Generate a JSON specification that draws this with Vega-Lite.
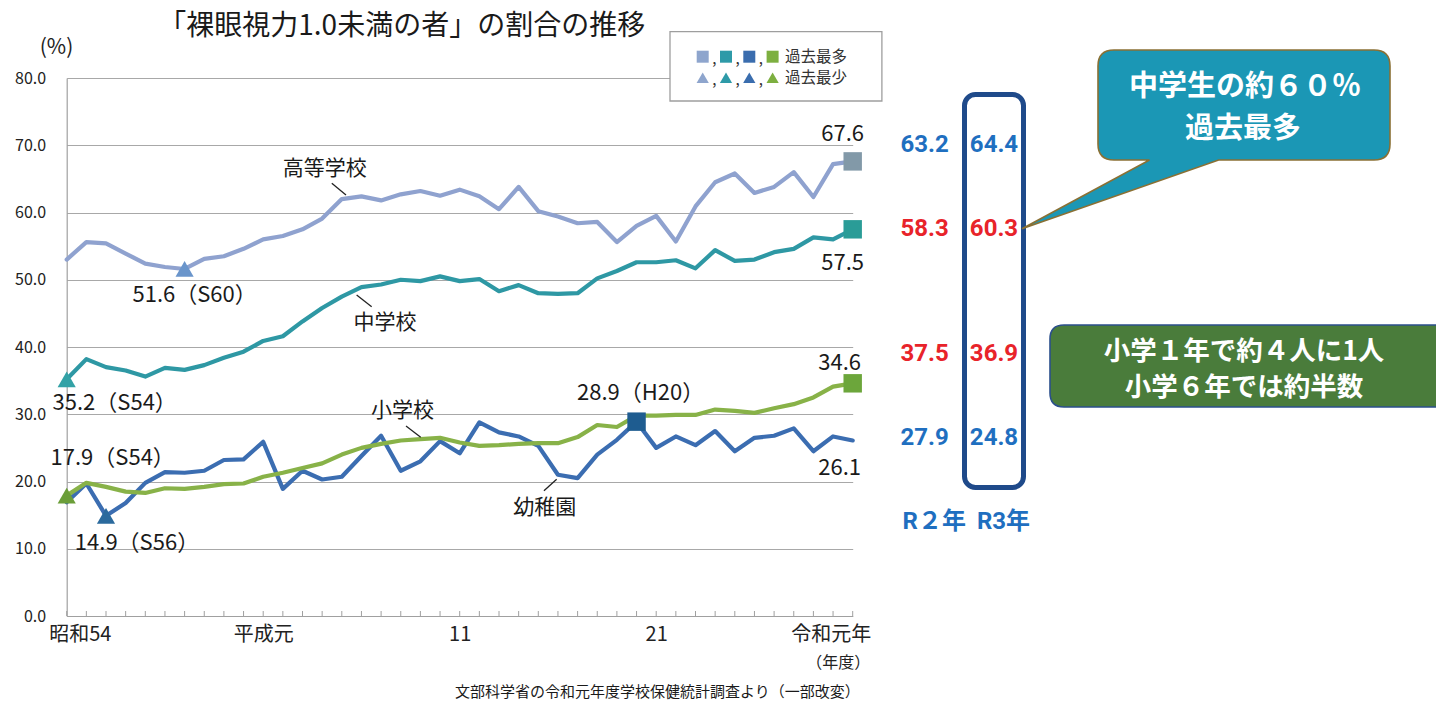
{
  "$schema": "https://vega.github.io/schema/vega-lite/v6.json",
  "width": 786,
  "height": 538,
  "autosize": {"type": "none"},
  "padding": {"left": 66.7, "top": 78, "right": 583.3, "bottom": 88},
  "background": "white",
  "config": {
    "font": "Noto Sans CJK JP",
    "view": {"stroke": null},
    "title": {"font": "Noto Sans CJK JP"}
  },
  "title": {
    "text": "「裸眼視力1.0未満の者」の割合の推移",
    "fontSize": 28,
    "fontWeight": "normal",
    "color": "#1a1a1a",
    "anchor": "middle",
    "dx": -58,
    "dy": 16,
    "offset": 6
  },
  "datasets": {
    "series": [
      {"年": 1979, "幼稚園": 16.9, "小学校": 17.9, "中学校": 35.2, "高等学校": 53.0},
      {"年": 1980, "幼稚園": 19.7, "小学校": 19.8, "中学校": 38.2, "高等学校": 55.6},
      {"年": 1981, "幼稚園": 14.9, "小学校": 19.2, "中学校": 37.0, "高等学校": 55.4},
      {"年": 1982, "幼稚園": 16.8, "小学校": 18.5, "中学校": 36.5, "高等学校": 53.9},
      {"年": 1983, "幼稚園": 19.8, "小学校": 18.3, "中学校": 35.6, "高等学校": 52.4},
      {"年": 1984, "幼稚園": 21.4, "小学校": 19.0, "中学校": 36.9, "高等学校": 51.9},
      {"年": 1985, "幼稚園": 21.3, "小学校": 18.9, "中学校": 36.6, "高等学校": 51.6},
      {"年": 1986, "幼稚園": 21.6, "小学校": 19.2, "中学校": 37.3, "高等学校": 53.1},
      {"年": 1987, "幼稚園": 23.2, "小学校": 19.6, "中学校": 38.4, "高等学校": 53.5},
      {"年": 1988, "幼稚園": 23.3, "小学校": 19.7, "中学校": 39.3, "高等学校": 54.6},
      {"年": 1989, "幼稚園": 25.9, "小学校": 20.7, "中学校": 40.9, "高等学校": 56.0},
      {"年": 1990, "幼稚園": 18.9, "小学校": 21.3, "中学校": 41.6, "高等学校": 56.5},
      {"年": 1991, "幼稚園": 21.6, "小学校": 22.0, "中学校": 43.8, "高等学校": 57.5},
      {"年": 1992, "幼稚園": 20.3, "小学校": 22.7, "中学校": 45.8, "高等学校": 59.1},
      {"年": 1993, "幼稚園": 20.7, "小学校": 24.0, "中学校": 47.5, "高等学校": 62.0},
      {"年": 1994, "幼稚園": 23.8, "小学校": 25.0, "中学校": 48.9, "高等学校": 62.4},
      {"年": 1995, "幼稚園": 26.8, "小学校": 25.6, "中学校": 49.3, "高等学校": 61.8},
      {"年": 1996, "幼稚園": 21.6, "小学校": 26.1, "中学校": 50.0, "高等学校": 62.7},
      {"年": 1997, "幼稚園": 23.0, "小学校": 26.3, "中学校": 49.8, "高等学校": 63.2},
      {"年": 1998, "幼稚園": 26.0, "小学校": 26.5, "中学校": 50.5, "高等学校": 62.5},
      {"年": 1999, "幼稚園": 24.2, "小学校": 25.8, "中学校": 49.8, "高等学校": 63.4},
      {"年": 2000, "幼稚園": 28.8, "小学校": 25.3, "中学校": 50.1, "高等学校": 62.4},
      {"年": 2001, "幼稚園": 27.3, "小学校": 25.4, "中学校": 48.3, "高等学校": 60.5},
      {"年": 2002, "幼稚園": 26.7, "小学校": 25.6, "中学校": 49.2, "高等学校": 63.8},
      {"年": 2003, "幼稚園": 25.3, "小学校": 25.7, "中学校": 48.0, "高等学校": 60.2},
      {"年": 2004, "幼稚園": 21.0, "小学校": 25.7, "中学校": 47.9, "高等学校": 59.4},
      {"年": 2005, "幼稚園": 20.5, "小学校": 26.6, "中学校": 48.0, "高等学校": 58.4},
      {"年": 2006, "幼稚園": 24.0, "小学校": 28.4, "中学校": 50.2, "高等学校": 58.6},
      {"年": 2007, "幼稚園": 26.2, "小学校": 28.1, "中学校": 51.3, "高等学校": 55.6},
      {"年": 2008, "幼稚園": 28.9, "小学校": 29.8, "中学校": 52.6, "高等学校": 58.0},
      {"年": 2009, "幼稚園": 25.0, "小学校": 29.8, "中学校": 52.6, "高等学校": 59.5},
      {"年": 2010, "幼稚園": 26.7, "小学校": 29.9, "中学校": 52.9, "高等学校": 55.7},
      {"年": 2011, "幼稚園": 25.4, "小学校": 29.9, "中学校": 51.7, "高等学校": 60.9},
      {"年": 2012, "幼稚園": 27.5, "小学校": 30.7, "中学校": 54.4, "高等学校": 64.5},
      {"年": 2013, "幼稚園": 24.5, "小学校": 30.5, "中学校": 52.8, "高等学校": 65.8},
      {"年": 2014, "幼稚園": 26.5, "小学校": 30.2, "中学校": 53.0, "高等学校": 62.9},
      {"年": 2015, "幼稚園": 26.8, "小学校": 30.9, "中学校": 54.1, "高等学校": 63.8},
      {"年": 2016, "幼稚園": 27.9, "小学校": 31.5, "中学校": 54.6, "高等学校": 66.0},
      {"年": 2017, "幼稚園": 24.5, "小学校": 32.5, "中学校": 56.3, "高等学校": 62.3},
      {"年": 2018, "幼稚園": 26.7, "小学校": 34.1, "中学校": 56.0, "高等学校": 67.2},
      {"年": 2019, "幼稚園": 26.1, "小学校": 34.6, "中学校": 57.5, "高等学校": 67.6}
    ],
    "markers": [
      {"校種": "高等学校", "種別": "過去最少", "年": 1985, "値": 51.6, "ラベル": "51.6（S60）"},
      {"校種": "高等学校", "種別": "過去最多", "年": 2019, "値": 67.6, "ラベル": "67.6"},
      {"校種": "中学校", "種別": "過去最少", "年": 1979, "値": 35.2, "ラベル": "35.2（S54）"},
      {"校種": "中学校", "種別": "過去最多", "年": 2019, "値": 57.5, "ラベル": "57.5"},
      {"校種": "小学校", "種別": "過去最少", "年": 1979, "値": 17.9, "ラベル": "17.9（S54）"},
      {"校種": "小学校", "種別": "過去最多", "年": 2019, "値": 34.6, "ラベル": "34.6"},
      {"校種": "幼稚園", "種別": "過去最少", "年": 1981, "値": 14.9, "ラベル": "14.9（S56）"},
      {"校種": "幼稚園", "種別": "過去最多", "年": 2008, "値": 28.9, "ラベル": "28.9（H20）"}
    ],
    "table": [
      {"年度": "R2年", "校種": "高等学校", "値": 63.2},
      {"年度": "R3年", "校種": "高等学校", "値": 64.4},
      {"年度": "R2年", "校種": "中学校", "値": 58.3},
      {"年度": "R3年", "校種": "中学校", "値": 60.3},
      {"年度": "R2年", "校種": "小学校", "値": 37.5},
      {"年度": "R3年", "校種": "小学校", "値": 36.9},
      {"年度": "R2年", "校種": "幼稚園", "値": 27.9},
      {"年度": "R3年", "校種": "幼稚園", "値": 24.8}
    ],
    "legendItems": [
      {"校種": "高等学校", "種別": "過去最多"},
      {"校種": "中学校", "種別": "過去最多"},
      {"校種": "幼稚園", "種別": "過去最多"},
      {"校種": "小学校", "種別": "過去最多"},
      {"校種": "高等学校", "種別": "過去最少"},
      {"校種": "中学校", "種別": "過去最少"},
      {"校種": "幼稚園", "種別": "過去最少"},
      {"校種": "小学校", "種別": "過去最少"}
    ]
  },
  "layer": [
    {
      "layer": [
        {
          "data": {"name": "series"},
          "transform": [{"fold": ["幼稚園", "小学校", "中学校", "高等学校"], "as": ["校種", "値"]}],
          "mark": {"type": "line", "strokeWidth": 4.2, "strokeJoin": "round", "strokeCap": "round"},
          "encoding": {
            "x": {
              "field": "年", "type": "quantitative",
              "scale": {"domain": [1979, 2019], "nice": false, "zero": false},
              "axis": {
                "values": [1979, 1989, 1999, 2009, 2019],
                "labelExpr": "datum.value == 1979 ? '昭和54' : datum.value == 1989 ? '平成元' : datum.value == 1999 ? '11' : datum.value == 2009 ? '21' : '令和元年'",
                "grid": false,
                "domainColor": "#A0A0A0", "domainWidth": 1.2,
                "ticks": false,
                "labelFontSize": 20, "labelColor": "#222222", "labelPadding": 8,
                "labelFlush": true, "labelFlushOffset": 18, "labelOverlap": false,
                "title": "（年度）", "titleFontSize": 16, "titleFontWeight": "normal", "titleColor": "#222222",
                "titleAnchor": "end", "titleAlign": "right", "titleX": 803, "titleY": 46, "titleBaseline": "middle"
              }
            },
            "y": {
              "field": "値", "type": "quantitative",
              "scale": {"domain": [0, 80], "nice": false, "zero": true},
              "axis": {
                "values": [0, 10, 20, 30, 40, 50, 60, 70, 80],
                "format": ".1f",
                "grid": true, "gridColor": "#A8A8A8", "gridWidth": 1.2,
                "ticks": false,
                "domainColor": "#A0A0A0", "domainWidth": 1.2,
                "labelFontSize": 16, "labelColor": "#222222", "labelPadding": 21,
                "title": "(%)", "titleAngle": 0, "titleX": -10.7, "titleY": -31,
                "titleAlign": "center", "titleBaseline": "middle",
                "titleFontSize": 21, "titleFontWeight": "normal", "titleColor": "#222222"
              }
            },
            "stroke": {
              "field": "校種", "type": "nominal",
              "scale": {"domain": ["高等学校", "中学校", "小学校", "幼稚園"], "range": ["#8FA2CF", "#2E98A4", "#88B248", "#3B6DB1"]},
              "legend": null
            }
          }
        },
        {
          "data": {"name": "series"},
          "mark": {"type": "rule", "stroke": "#A0A0A0", "strokeWidth": 1, "y2Offset": -5},
          "encoding": {
            "x": {"field": "年", "type": "quantitative"},
            "y": {"datum": 0, "type": "quantitative"},
            "y2": {"datum": 0}
          }
        },
        {
          "data": {"name": "markers"},
          "transform": [{"filter": {"field": "種別", "equal": "過去最多"}}],
          "mark": {"type": "point", "shape": "square", "filled": true, "size": 340, "opacity": 1},
          "encoding": {
            "x": {"field": "年", "type": "quantitative"},
            "y": {"field": "値", "type": "quantitative"},
            "color": {
              "field": "校種", "type": "nominal",
              "scale": {"domain": ["高等学校", "中学校", "小学校", "幼稚園"], "range": ["#8299A8", "#2A9C97", "#6CA63B", "#1E5C90"]},
              "legend": null
            }
          }
        },
        {
          "data": {"name": "markers"},
          "transform": [{"filter": {"field": "種別", "equal": "過去最少"}}],
          "mark": {"type": "point", "shape": "triangle-up", "filled": true, "size": 330, "opacity": 1},
          "encoding": {
            "x": {"field": "年", "type": "quantitative"},
            "y": {"field": "値", "type": "quantitative"},
            "fill": {
              "field": "校種", "type": "nominal",
              "scale": {"domain": ["高等学校", "中学校", "小学校", "幼稚園"], "range": ["#6A95CB", "#33A2A6", "#6B9E39", "#2B6A9D"]},
              "legend": null
            }
          }
        },
        {
          "data": {"name": "markers"},
          "transform": [{"filter": {"field": "ラベル", "equal": "67.6"}}],
          "mark": {"type": "text", "dx": -10, "dy": -27, "fontSize": 22, "fill": "#1a1a1a"},
          "encoding": {"x": {"field": "年", "type": "quantitative"}, "y": {"field": "値", "type": "quantitative"}, "text": {"field": "ラベル"}}
        },
        {
          "data": {"name": "markers"},
          "transform": [{"filter": {"field": "ラベル", "equal": "57.5"}}],
          "mark": {"type": "text", "dx": -10, "dy": 34, "fontSize": 22, "fill": "#1a1a1a"},
          "encoding": {"x": {"field": "年", "type": "quantitative"}, "y": {"field": "値", "type": "quantitative"}, "text": {"field": "ラベル"}}
        },
        {
          "data": {"name": "markers"},
          "transform": [{"filter": {"field": "ラベル", "equal": "34.6"}}],
          "mark": {"type": "text", "dx": -13, "dy": -20, "fontSize": 22, "fill": "#1a1a1a"},
          "encoding": {"x": {"field": "年", "type": "quantitative"}, "y": {"field": "値", "type": "quantitative"}, "text": {"field": "ラベル"}}
        },
        {
          "data": {"name": "markers"},
          "transform": [{"filter": {"field": "ラベル", "equal": "28.9（H20）"}}],
          "mark": {"type": "text", "dx": 4, "dy": -29, "fontSize": 22, "fill": "#1a1a1a"},
          "encoding": {"x": {"field": "年", "type": "quantitative"}, "y": {"field": "値", "type": "quantitative"}, "text": {"field": "ラベル"}}
        },
        {
          "data": {"name": "markers"},
          "transform": [{"filter": {"field": "ラベル", "equal": "51.6（S60）"}}],
          "mark": {"type": "text", "dx": 10, "dy": 26, "fontSize": 22, "fill": "#1a1a1a"},
          "encoding": {"x": {"field": "年", "type": "quantitative"}, "y": {"field": "値", "type": "quantitative"}, "text": {"field": "ラベル"}}
        },
        {
          "data": {"name": "markers"},
          "transform": [{"filter": {"field": "ラベル", "equal": "35.2（S54）"}}],
          "mark": {"type": "text", "dx": 48, "dy": 24, "fontSize": 22, "fill": "#1a1a1a"},
          "encoding": {"x": {"field": "年", "type": "quantitative"}, "y": {"field": "値", "type": "quantitative"}, "text": {"field": "ラベル"}}
        },
        {
          "data": {"name": "markers"},
          "transform": [{"filter": {"field": "ラベル", "equal": "17.9（S54）"}}],
          "mark": {"type": "text", "dx": 46, "dy": -38, "fontSize": 22, "fill": "#1a1a1a"},
          "encoding": {"x": {"field": "年", "type": "quantitative"}, "y": {"field": "値", "type": "quantitative"}, "text": {"field": "ラベル"}}
        },
        {
          "data": {"name": "markers"},
          "transform": [{"filter": {"field": "ラベル", "equal": "14.9（S56）"}}],
          "mark": {"type": "text", "dx": 31, "dy": 27, "fontSize": 22, "fill": "#1a1a1a"},
          "encoding": {"x": {"field": "年", "type": "quantitative"}, "y": {"field": "値", "type": "quantitative"}, "text": {"field": "ラベル"}}
        },
        {
          "data": {"name": "series"},
          "transform": [
            {"fold": ["幼稚園", "小学校", "中学校", "高等学校"], "as": ["校種", "値"]},
            {"filter": {"and": [{"field": "校種", "equal": "幼稚園"}, {"field": "年", "equal": 2019}]}}
          ],
          "mark": {"type": "text", "dx": -13, "dy": 28, "fontSize": 22, "fill": "#1a1a1a"},
          "encoding": {"x": {"field": "年", "type": "quantitative"}, "y": {"field": "値", "type": "quantitative"}, "text": {"field": "値", "type": "quantitative", "format": ".1f"}}
        },
        {
          "data": {"name": "series"},
          "transform": [
            {"fold": ["幼稚園", "小学校", "中学校", "高等学校"], "as": ["校種", "値"]},
            {"filter": {"and": [{"field": "校種", "equal": "高等学校"}, {"field": "年", "equal": 1993}]}}
          ],
          "layer": [
            {"mark": {"type": "rule", "stroke": "#222222", "strokeWidth": 1.3, "xOffset": -10, "yOffset": -15.7, "x2Offset": 4.2, "y2Offset": -4}, "encoding": {"x": {"field": "年", "type": "quantitative"}, "y": {"field": "値", "type": "quantitative"}, "x2": {"field": "年"}, "y2": {"field": "値"}}},
            {"mark": {"type": "text", "dx": -17, "dy": -29.7, "fontSize": 21, "fill": "#1a1a1a"}, "encoding": {"x": {"field": "年", "type": "quantitative"}, "y": {"field": "値", "type": "quantitative"}, "text": {"field": "校種"}}}
          ]
        },
        {
          "data": {"name": "series"},
          "transform": [
            {"fold": ["幼稚園", "小学校", "中学校", "高等学校"], "as": ["校種", "値"]},
            {"filter": {"and": [{"field": "校種", "equal": "中学校"}, {"field": "年", "equal": 1994}]}}
          ],
          "layer": [
            {"mark": {"type": "rule", "stroke": "#222222", "strokeWidth": 1.3, "xOffset": -4.8, "yOffset": 7.8, "x2Offset": 10.2, "y2Offset": 19.5}, "encoding": {"x": {"field": "年", "type": "quantitative"}, "y": {"field": "値", "type": "quantitative"}, "x2": {"field": "年"}, "y2": {"field": "値"}}},
            {"mark": {"type": "text", "dx": 23.5, "dy": 35.5, "fontSize": 21, "fill": "#1a1a1a"}, "encoding": {"x": {"field": "年", "type": "quantitative"}, "y": {"field": "値", "type": "quantitative"}, "text": {"field": "校種"}}}
          ]
        },
        {
          "data": {"name": "series"},
          "transform": [
            {"fold": ["幼稚園", "小学校", "中学校", "高等学校"], "as": ["校種", "値"]},
            {"filter": {"and": [{"field": "校種", "equal": "小学校"}, {"field": "年", "equal": 1997}]}}
          ],
          "layer": [
            {"mark": {"type": "rule", "stroke": "#222222", "strokeWidth": 1.3, "xOffset": -14.4, "yOffset": -13.1, "x2Offset": 0.3, "y2Offset": -1.8}, "encoding": {"x": {"field": "年", "type": "quantitative"}, "y": {"field": "値", "type": "quantitative"}, "x2": {"field": "年"}, "y2": {"field": "値"}}},
            {"mark": {"type": "text", "dx": -18, "dy": -28.4, "fontSize": 21, "fill": "#1a1a1a"}, "encoding": {"x": {"field": "年", "type": "quantitative"}, "y": {"field": "値", "type": "quantitative"}, "text": {"field": "校種"}}}
          ]
        },
        {
          "data": {"name": "series"},
          "transform": [
            {"fold": ["幼稚園", "小学校", "中学校", "高等学校"], "as": ["校種", "値"]},
            {"filter": {"and": [{"field": "校種", "equal": "幼稚園"}, {"field": "年", "equal": 2004}]}}
          ],
          "layer": [
            {"mark": {"type": "rule", "stroke": "#222222", "strokeWidth": 1.3, "xOffset": -1.3, "yOffset": 4.5, "x2Offset": -14, "y2Offset": 15.9}, "encoding": {"x": {"field": "年", "type": "quantitative"}, "y": {"field": "値", "type": "quantitative"}, "x2": {"field": "年"}, "y2": {"field": "値"}}},
            {"mark": {"type": "text", "dx": -13.3, "dy": 33.5, "fontSize": 21, "fill": "#1a1a1a"}, "encoding": {"x": {"field": "年", "type": "quantitative"}, "y": {"field": "値", "type": "quantitative"}, "text": {"field": "校種"}}}
          ]
        },
        {
          "data": {"values": [{"出典": "文部科学省の令和元年度学校保健統計調査より（一部改変）"}]},
          "mark": {"type": "text", "align": "right", "baseline": "middle", "dx": 7, "dy": 76, "fontSize": 15, "fill": "#1a1a1a"},
          "encoding": {
            "x": {"datum": 2019, "type": "quantitative"},
            "y": {"datum": 0, "type": "quantitative"},
            "text": {"field": "出典"}
          }
        }
      ]
    },
    {
      "layer": [
        {
          "data": {"values": [{}]},
          "mark": {"type": "rect", "fill": "white", "fillOpacity": 0, "stroke": "#1F4A8A", "strokeWidth": 5, "cornerRadius": 11, "xOffset": -29.5, "x2Offset": 29.5, "yOffset": -50.5, "y2Offset": 49.3},
          "encoding": {
            "x": {"datum": "R3年", "type": "nominal", "scale": {"type": "point", "domain": ["R2年", "R3年"], "range": [858, 927.3], "padding": 0}, "axis": null},
            "x2": {"datum": "R3年"},
            "y": {"datum": "高等学校", "type": "nominal", "scale": {"type": "point", "domain": ["高等学校", "_1", "中学校", "_2", "_3", "小学校", "_4", "幼稚園", "_5", "見出し"], "range": [67, 444], "padding": 0}, "axis": null},
            "y2": {"datum": "幼稚園"}
          }
        },
        {
          "data": {"values": [{}]},
          "mark": {"type": "point", "shape": "M120,-178.8 L380,-178.8 Q396,-178.8 396,-162.8 L396,-84.8 Q396,-68.8 380,-68.8 L224.6,-68.8 L28,0 L155.5,-68.8 L120,-68.8 Q104,-68.8 104,-84.8 L104,-162.8 Q104,-178.8 120,-178.8 Z", "size": 4, "filled": true, "fill": "#1B97B5", "stroke": "#8A7034", "strokeWidth": 1.6, "opacity": 1},
          "encoding": {
            "x": {"datum": "R3年", "type": "nominal", "axis": null},
            "y": {"datum": "中学校", "type": "nominal", "axis": null}
          }
        },
        {
          "data": {"values": [{"文": "中学生の約６０％"}]},
          "mark": {"type": "text", "dx": 251, "dy": -142, "fontSize": 29, "fontWeight": "bold", "fill": "white"},
          "encoding": {
            "x": {"datum": "R3年", "type": "nominal", "axis": null},
            "y": {"datum": "中学校", "type": "nominal", "axis": null},
            "text": {"field": "文"}
          }
        },
        {
          "data": {"values": [{"文": "過去最多"}]},
          "mark": {"type": "text", "dx": 249, "dy": -100, "fontSize": 29, "fontWeight": "bold", "fill": "white"},
          "encoding": {
            "x": {"datum": "R3年", "type": "nominal", "axis": null},
            "y": {"datum": "中学校", "type": "nominal", "axis": null},
            "text": {"field": "文"}
          }
        },
        {
          "data": {"values": [{}]},
          "mark": {"type": "point", "shape": "M70,-29.4 L470,-29.4 L470,52.6 L70,52.6 Q56,52.6 56,38.6 L56,-15.4 Q56,-29.4 70,-29.4 Z", "size": 4, "filled": true, "fill": "#4A7C3B", "stroke": "#2B4F8C", "strokeWidth": 1.6, "opacity": 1},
          "encoding": {
            "x": {"datum": "R3年", "type": "nominal", "axis": null},
            "y": {"datum": "小学校", "type": "nominal", "axis": null}
          }
        },
        {
          "data": {"values": [{"文": "小学１年で約４人に1人"}]},
          "mark": {"type": "text", "dx": 250, "dy": -2.7, "fontSize": 26.5, "fontWeight": "bold", "fill": "white"},
          "encoding": {
            "x": {"datum": "R3年", "type": "nominal", "axis": null},
            "y": {"datum": "小学校", "type": "nominal", "axis": null},
            "text": {"field": "文"}
          }
        },
        {
          "data": {"values": [{"文": "小学６年では約半数"}]},
          "mark": {"type": "text", "dx": 250, "dy": 33.6, "fontSize": 26.5, "fontWeight": "bold", "fill": "white"},
          "encoding": {
            "x": {"datum": "R3年", "type": "nominal", "axis": null},
            "y": {"datum": "小学校", "type": "nominal", "axis": null},
            "text": {"field": "文"}
          }
        },
        {
          "data": {"name": "table"},
          "mark": {"type": "text", "fontSize": 24, "fontWeight": "bold", "font": "Roboto"},
          "encoding": {
            "x": {"field": "年度", "type": "nominal", "axis": null},
            "y": {"field": "校種", "type": "nominal", "axis": null},
            "text": {"field": "値", "type": "quantitative", "format": ".1f"},
            "color": {
              "field": "校種", "type": "nominal",
              "scale": {"domain": ["高等学校", "中学校", "小学校", "幼稚園"], "range": ["#1F6FC0", "#E8232A", "#E8232A", "#1F6FC0"]},
              "legend": null
            }
          }
        },
        {
          "data": {"values": [{"年度": "R2年", "表記": "R２年"}, {"年度": "R3年", "表記": "R3年"}]},
          "mark": {"type": "text", "dx": 9.5, "fontSize": 24, "fontWeight": "bold", "font": "Roboto, Noto Sans CJK JP", "fill": "#1F6FC0"},
          "encoding": {
            "x": {"field": "年度", "type": "nominal", "axis": null},
            "y": {"datum": "見出し", "type": "nominal", "axis": null},
            "text": {"field": "表記"}
          }
        }
      ]
    },
    {
      "layer": [
        {
          "data": {"values": [{}]},
          "mark": {"type": "rect", "fill": "white", "stroke": "#9E9E9E", "strokeWidth": 1.3, "xOffset": -32.7, "x2Offset": 86, "yOffset": -25, "y2Offset": 23.3},
          "encoding": {
            "x": {"datum": "高等学校", "type": "nominal", "scale": {"type": "point", "domain": ["高等学校", "中学校", "幼稚園", "小学校", "ラベル"], "range": [636, 729.2], "padding": 0}, "axis": null},
            "x2": {"datum": "ラベル"},
            "y": {"datum": "過去最多", "type": "nominal", "scale": {"type": "point", "domain": ["過去最多", "過去最少"], "range": [-21.3, -0.3], "padding": 0}, "axis": null},
            "y2": {"datum": "過去最少"}
          }
        },
        {
          "data": {"name": "legendItems"},
          "transform": [{"filter": {"field": "種別", "equal": "過去最多"}}],
          "mark": {"type": "point", "shape": "square", "filled": true, "size": 144, "opacity": 1},
          "encoding": {
            "x": {"field": "校種", "type": "nominal", "axis": null},
            "y": {"field": "種別", "type": "nominal", "axis": null},
            "color": {
              "field": "校種", "type": "nominal",
              "scale": {"domain": ["高等学校", "中学校", "幼稚園", "小学校"], "range": ["#8EA5CD", "#2E9AA8", "#3A6DAE", "#7DAF40"]},
              "legend": null
            }
          }
        },
        {
          "data": {"name": "legendItems"},
          "transform": [{"filter": {"field": "種別", "equal": "過去最少"}}],
          "mark": {"type": "point", "shape": "triangle-up", "filled": true, "size": 150, "opacity": 1},
          "encoding": {
            "x": {"field": "校種", "type": "nominal", "axis": null},
            "y": {"field": "種別", "type": "nominal", "axis": null},
            "color": {"field": "校種", "type": "nominal", "legend": null}
          }
        },
        {
          "data": {"name": "legendItems"},
          "transform": [{"filter": {"not": {"field": "校種", "equal": "小学校"}}}],
          "mark": {"type": "text", "text": ",", "dx": 11.6, "dy": 2, "fontSize": 15, "fill": "#333333"},
          "encoding": {
            "x": {"field": "校種", "type": "nominal", "axis": null},
            "y": {"field": "種別", "type": "nominal", "axis": null}
          }
        },
        {
          "data": {"values": [{"種別": "過去最多"}, {"種別": "過去最少"}]},
          "mark": {"type": "text", "align": "left", "dx": -11, "fontSize": 15.5, "fill": "#333333"},
          "encoding": {
            "x": {"datum": "ラベル", "type": "nominal", "axis": null},
            "y": {"field": "種別", "type": "nominal", "axis": null},
            "text": {"field": "種別"}
          }
        }
      ]
    }
  ],
  "resolve": {
    "scale": {"x": "independent", "y": "independent", "color": "independent", "fill": "independent", "stroke": "independent"},
    "axis": {"x": "independent", "y": "independent"}
  }
}
